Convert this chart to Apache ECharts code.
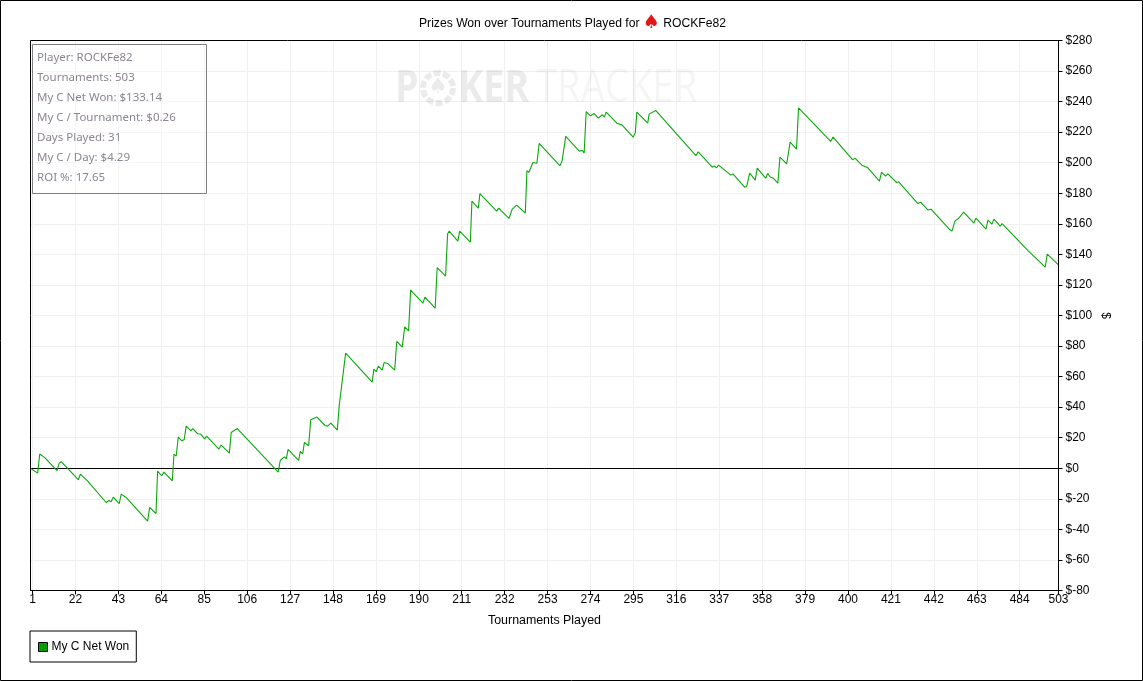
<!DOCTYPE html>
<html>
<head>
<meta charset="utf-8">
<title>Prizes Won over Tournaments Played</title>
<script src="https://cdn.jsdelivr.net/npm/echarts@6/dist/echarts.min.js"></script>
<style>
  html, body { margin: 0; padding: 0; background: #fff; }
  #chart { width: 1143px; height: 681px; }
</style>
</head>
<body>
<div id="chart"></div>
<script>
// tournament number of each turning point of the graph
var tournaments = [0, 3.5, 4.5, 7, 9.5, 13, 14, 15, 23.4, 24.4, 28, 37, 38.4, 39.4, 40.5, 43.4, 44.4, 47, 57.3, 58.3,
  61.4, 62.2, 64.2, 65.3, 69.4, 70.2, 71.3, 72.3, 74.1, 75.2, 76.2, 78.4, 79.4, 81.8, 83.3, 85.2, 86.2, 92.2, 93.3, 97.3,
  98.2, 98.9, 101.2, 121.2, 122.2, 124.2, 125.2, 126, 131.2, 132, 133.2, 134, 136.1, 137.1, 138.2, 140.2, 144.1, 145.4, 147, 150.1,
  151.1, 151.8, 154.2, 167.2, 168, 169.2, 170.2, 172.1, 173, 173.9, 175, 178.2, 179.2, 181.9, 183.1, 185, 186, 192, 193, 198,
  199, 203.1, 204.1, 204.9, 209.1, 210, 215.2, 216, 219.1, 219.9, 228.1, 229.1, 234.1, 235.7, 236.5, 237.9, 242.1, 242.9, 243.9, 245.8,
  247.8, 248.9, 259.1, 260.1, 260.9, 261.9, 268.5, 270.1, 270.9, 271.9, 274, 275.8, 277.8, 279.8, 280.8, 281.7, 286.9, 287.8, 289.5, 294.9,
  295.9, 296.7, 302, 302.7, 305.9, 325.6, 326.7, 333.6, 334.6, 335.7, 336.7, 337.7, 338.6, 342.7, 343.7, 349.4, 350.4, 351.9, 354.6, 355.6,
  359.7, 360.7, 361.8, 363.4, 365.7, 366.7, 370, 370.8, 371.7, 374.8, 375.8, 391.5, 392.7, 402.3, 403.4, 406.8, 407.7, 409.5, 415.4, 416.4,
  418.4, 419.5, 423.8, 424.8, 434.2, 435.5, 439.2, 440.6, 449.9, 450.9, 452.3, 453.1, 454.3, 455.1, 456.6, 461.6, 462.6, 467.5, 468.5, 470.4,
  471.4, 474.5, 475.4, 488.2, 496.5, 497.5, 503]
var netWon = [0, -3.2, 9.3, 7, 3.4, -1.6, 3.4, 4.3, -7.5, -3.8, -8.4, -22.4, -21, -22, -18.9, -23.2, -16.9, -19.3, -34.6, -25.6,
  -29.6, -1.8, -4.9, -2.5, -8.2, 9.3, 8, 20.4, 18, 18.8, 27.6, 24.7, 26, 22.6, 22.4, 19.3, 21, 12.6, 15.2, 9.9,
  23.4, 22.8, 26, -2.5, 5.1, 7.5, 6.2, 12.3, 5.1, 11, 9.5, 16.9, 14.7, 31.7, 32.4, 33.5, 28, 27.6, 29.6, 25,
  41.6, 41.1, 75.4, 56.4, 64.9, 63.2, 66.9, 64.3, 69.2, 68.2, 68.4, 64.3, 83, 79.3, 92.6, 90, 116.6, 108.1, 112, 104.8,
  131.4, 125.8, 153.5, 155.2, 148.7, 155.2, 148, 174.9, 170.3, 179.8, 168.3, 170.3, 163.5, 169.6, 168.5, 172.2, 167, 194.7, 193.8, 200.1,
  199.7, 212.6, 198, 201.2, 200.6, 217.2, 207.6, 208, 206.3, 233.5, 230.7, 232.2, 229.2, 231.4, 229.9, 233.1, 225.9, 226.6, 224.6, 216.8,
  219.4, 233.1, 225.9, 231.8, 234.2, 204.7, 207.1, 197.1, 197.8, 196.7, 198.4, 197.3, 198.2, 191.9, 192.7, 184, 184.4, 193.2, 188.6, 196.5,
  189.9, 192.9, 190.8, 189.9, 186.6, 203.7, 199.3, 200.4, 213.5, 208.9, 235.9, 213.9, 216.8, 201.9, 203, 198.4, 198.9, 196.9, 188, 193.8,
  191.2, 192.7, 187, 187.5, 173.3, 174.2, 169, 169.6, 156.1, 155.2, 161.8, 160.7, 163.8, 164.4, 167.7, 160.5, 163.7, 156.6, 162.4, 159.8,
  163.1, 158.5, 160.2, 142.3, 131.7, 140.2, 133.14]
var xTicks = [1, 22, 43, 64, 85, 106, 127, 148, 169, 190, 211, 232, 253, 274, 295, 316, 337, 358, 379, 400, 421, 442, 463, 484, 503]
var statLines = ['Player: ROCKFe82', 'Tournaments: 503', 'My C Net Won: $133.14', 'My C / Tournament: $0.26',
  'Days Played: 31', 'My C / Day: $4.29', 'ROI %: 17.65']

var labelFont = '"Liberation Sans", Arial, sans-serif'
var markFont = '"Open Sans", sans-serif'
var seriesData = tournaments.map(function (t, i) { return [t, netWon[i]] })

var statChart = echarts.init(document.getElementById('chart'), null, { renderer: 'canvas' })

// stats box lines, one text element per row
var statTexts = statLines.map(function (line, i) {
  return {
    type: 'text',
    z: 11,
    silent: true,
    x: 37,
    y: 58 + i * 20,
    style: { text: line, fill: '#8c8490', font: '11.5px "Noto Sans", sans-serif', verticalAlign: 'middle' }
  }
})

var option = {
  animation: false,
  backgroundColor: '#fff',
  title: {
    text: 'Prizes Won over Tournaments Played for {spade|♠} ROCKFe82',
    left: 567.5,
    top: 9,
    textAlign: 'center',
    textStyle: {
      color: '#000',
      fontFamily: labelFont,
      fontSize: 12.15,
      fontWeight: 'normal',
      rich: {
        spade: { color: '#e01818', fontSize: 19, fontFamily: '"DejaVu Sans"' }
      }
    }
  },
  grid: {
    show: false,
    left: 30.5,
    right: 84.5,
    top: 40.5,
    bottom: 90.5
  },
  legend: {
    left: 30,
    top: 631,
    orient: 'horizontal',
    padding: [10, 7, 9, 8],
    borderColor: '#000',
    borderWidth: 1,
    icon: 'rect',
    itemWidth: 9,
    itemHeight: 9,
    itemGap: 0,
    textStyle: { color: '#000', fontFamily: labelFont, fontSize: 12, padding: [0, 0, 0, -1] },
    itemStyle: { color: '#00a000', borderColor: '#000', borderWidth: 1 },
    data: ['My C Net Won']
  },
  xAxis: {
    type: 'value',
    min: 0,
    max: 503,
    name: 'Tournaments Played',
    nameLocation: 'middle',
    nameGap: 24,
    nameTextStyle: { color: '#000', fontFamily: labelFont, fontSize: 12.4 },
    axisLine: { onZero: false, lineStyle: { color: '#000', width: 1 } },
    axisTick: { show: true, length: 4, customValues: xTicks, lineStyle: { color: '#000' } },
    axisLabel: { customValues: xTicks, color: '#000', fontFamily: labelFont, fontSize: 12, margin: 3, hideOverlap: false,
      showMinLabel: true, showMaxLabel: true },
    splitLine: { show: true, lineStyle: { color: '#f0f0f0', width: 1 } }
  },
  yAxis: {
    type: 'value',
    position: 'right',
    min: -80,
    max: 280,
    interval: 20,
    name: '$',
    nameLocation: 'middle',
    nameGap: 41,
    nameMoveOverlap: false,
    nameRotate: -90,
    nameTextStyle: { color: '#000', fontFamily: labelFont, fontSize: 12 },
    axisLine: { show: true, onZero: false, lineStyle: { color: '#000', width: 1 } },
    axisTick: { show: true, length: 4, lineStyle: { color: '#000' } },
    axisLabel: {
      color: '#000',
      fontFamily: labelFont,
      fontSize: 12,
      margin: 7,
      formatter: function (v) { return v < 0 ? '$-' + Math.abs(v) : '$' + v }
    },
    splitLine: { show: true, lineStyle: { color: '#f0f0f0', width: 1 } }
  },
  series: [
    {
      name: 'My C Net Won',
      type: 'line',
      symbol: 'none',
      smooth: false,
      z: 5,
      itemStyle: { color: '#00a000' },
      lineStyle: { color: '#0aa80a', width: 1.1 },
      data: seriesData,
      markLine: {
        silent: true,
        symbol: 'none',
        z: 4,
        label: { show: false },
        lineStyle: { color: '#000', width: 1, type: 'solid' },
        data: [{ yAxis: 0 }]
      }
    }
  ],
  graphic: [
    // outer frame
    { type: 'rect', z: -1, silent: true, shape: { x: 0.5, y: 0.5, width: 1142, height: 680 },
      style: { fill: 'none', stroke: '#000', lineWidth: 1 } },
    // plot frame, drawn over the split lines so they do not break it
    { type: 'rect', z: 20, silent: true, shape: { x: 30.5, y: 40.5, width: 1028, height: 550 },
      style: { fill: 'none', stroke: '#000', lineWidth: 1 } },
    // watermark, squeezed horizontally because the logo lettering is condensed
    { type: 'text', z: 1, silent: true, x: 395, y: 89, scaleX: 0.84,
      style: { text: 'P', fill: 'rgba(0,0,0,0.08)', font: 'bold 45px ' + markFont, verticalAlign: 'middle' } },
    { type: 'circle', z: 1, silent: true, shape: { cx: 438, cy: 88, r: 15 },
      style: { fill: 'none', stroke: 'rgba(0,0,0,0.08)', lineWidth: 6, lineDash: [7, 2.4] } },
    { type: 'text', z: 1, silent: true, x: 438, y: 87,
      style: { text: '♠', fill: 'rgba(0,0,0,0.08)', font: '22px "DejaVu Sans"', align: 'center', verticalAlign: 'middle' } },
    { type: 'text', z: 1, silent: true, x: 458, y: 89, scaleX: 0.84,
      style: { text: 'KER', fill: 'rgba(0,0,0,0.08)', font: 'bold 45px ' + markFont, verticalAlign: 'middle' } },
    { type: 'text', z: 1, silent: true, x: 536, y: 89, scaleX: 0.85,
      style: { text: 'TRACKER', fill: 'rgba(0,0,0,0.04)', font: '45px ' + markFont, verticalAlign: 'middle' } },
    // stats box
    { type: 'rect', z: 10, silent: true, shape: { x: 32.5, y: 44.5, width: 174, height: 149 },
      style: { fill: 'rgba(255,255,255,0.35)', stroke: '#808080', lineWidth: 1 } }
  ].concat(statTexts)
}

statChart.setOption(option, true)
</script>
</body>
</html>
